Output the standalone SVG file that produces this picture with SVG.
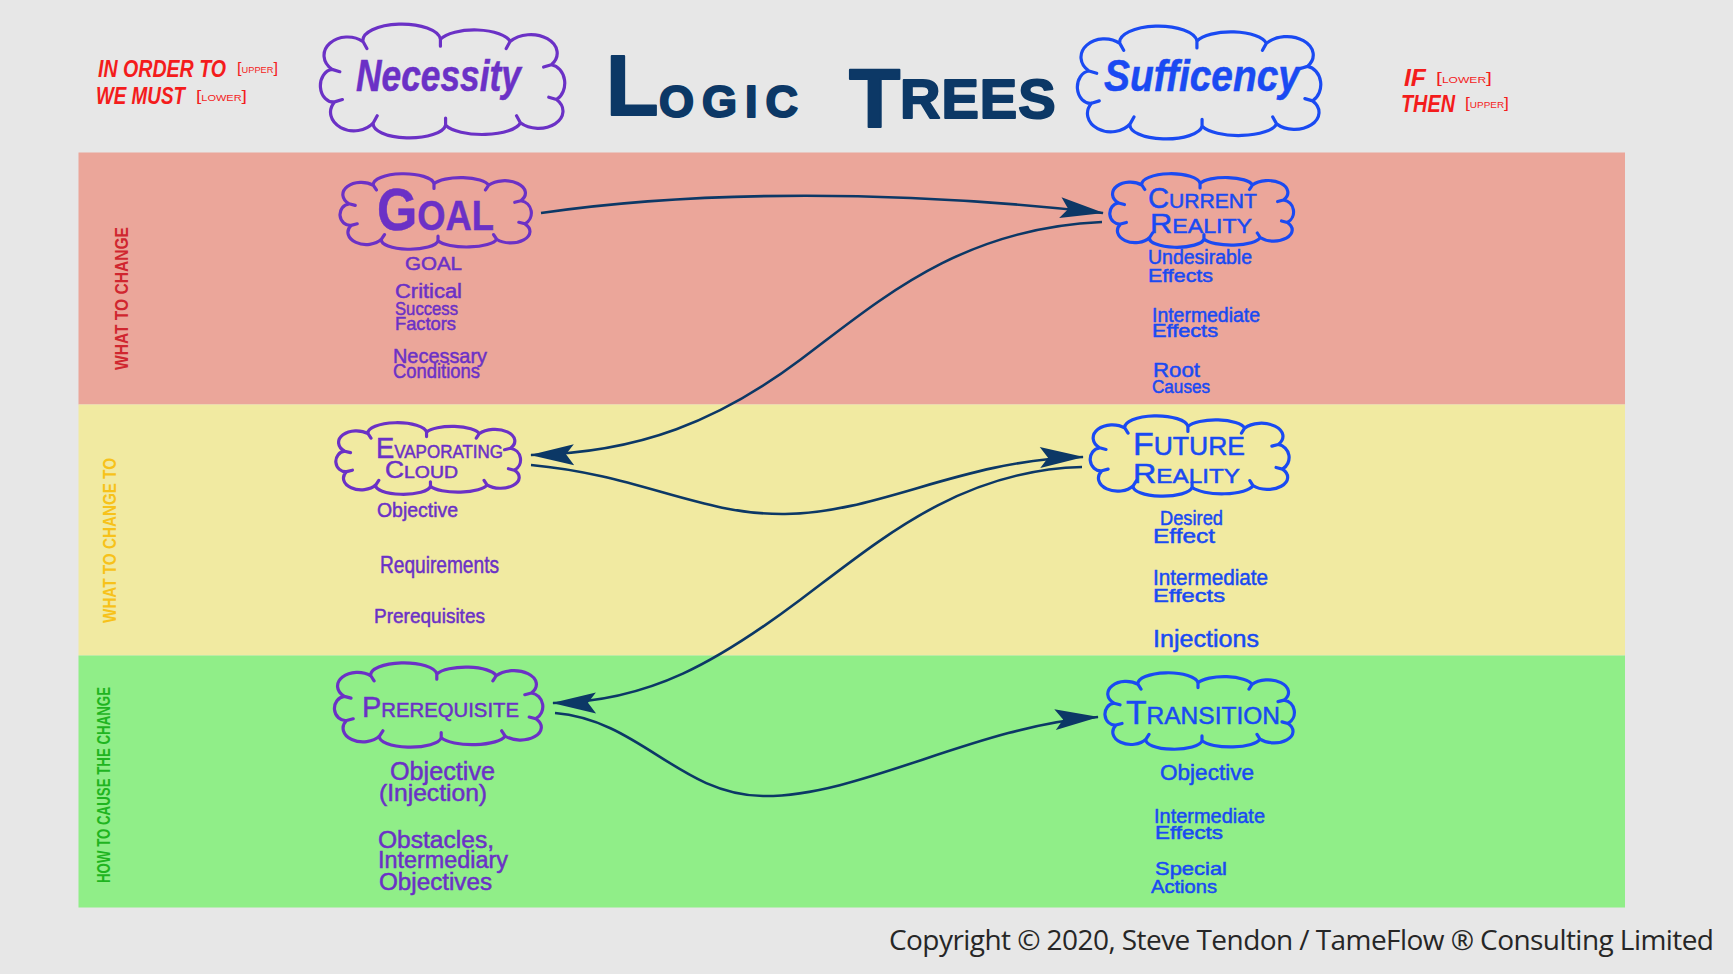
<svg xmlns="http://www.w3.org/2000/svg" width="1733" height="974" viewBox="0 0 1733 974">
<defs>
<style>
.t{font-family:"Liberation Sans",Arial,sans-serif}
.p{fill:#6b31c6;stroke:#6b31c6;stroke-width:0.5}
.b{fill:#1a4af2;stroke:#1a4af2;stroke-width:0.5}
.r{fill:#f41c1c}
.cl{fill:none;stroke-width:3.2;stroke-linecap:round;stroke-linejoin:round}
.cp{stroke:#6b31c6}
.cb{stroke:#1a4af2}
.con{fill:none;stroke:#0c3866;stroke-width:2.6;marker-end:url(#ah)}
.br{font-size:15px;font-weight:400}
</style>
<path id="cloud" vector-effect="non-scaling-stroke" d="M14,40 A16,14 0 0 1 38,16 A30,14 0 0 1 98,14 A28,12 0 0 1 152,16 A18,14 0 0 1 184,36 A12,16 0 0 1 188,66 A18,14 0 0 1 160,86 A30,12 0 0 1 102,88 A28,12 0 0 1 46,86 A16,14 0 0 1 16,68 A10,14 0 0 1 14,40 Z M38,16 l3,6 M98,14 l0,6 M152,16 l-3,6 M184,36 l-6,2 M188,66 l-6,-2 M160,86 l-3,-6 M102,88 l0,-6 M46,86 l3,-6 M16,68 l6,-2 M14,40 l6,2"/>
<marker id="ah" markerUnits="userSpaceOnUse" viewBox="-46 -13 48 26" markerWidth="48" markerHeight="26" refX="0" refY="0" orient="auto">
<path d="M1,0 L-43,-11 L-35,0 L-43,10 Z" fill="#0c3866"/>
</marker>
</defs>

<rect x="0" y="0" width="1733" height="974" fill="#e7e7e7"/>

<g id="bands">
<rect x="78.5" y="152.5" width="1546.5" height="252" fill="#eba69a"/>
<rect x="78.5" y="404.5" width="1546.5" height="251" fill="#f1eaa1"/>
<rect x="78.5" y="655.5" width="1546.5" height="252" fill="#90ee88"/>
<text class="t" font-weight="700" font-size="18" fill="#d0262f" text-anchor="middle" textLength="143" lengthAdjust="spacingAndGlyphs" transform="translate(128,298.5) rotate(-90)">WHAT TO CHANGE</text>
<text class="t" font-weight="700" font-size="18" fill="#f7c21a" text-anchor="middle" textLength="165" lengthAdjust="spacingAndGlyphs" transform="translate(116,540.5) rotate(-90)">WHAT TO CHANGE TO</text>
<text class="t" font-weight="700" font-size="18" fill="#1fb51f" text-anchor="middle" textLength="196" lengthAdjust="spacingAndGlyphs" transform="translate(110,785) rotate(-90)">HOW TO CAUSE THE CHANGE</text>
</g>

<g id="header">
<text class="t r" font-weight="700" font-style="italic" font-size="23" x="98" y="77" textLength="128" lengthAdjust="spacingAndGlyphs">IN ORDER TO</text>
<text class="t r" font-size="8.5" x="237" y="73" textLength="41" lengthAdjust="spacingAndGlyphs"><tspan class="br">[</tspan>UPPER<tspan class="br">]</tspan></text>
<text class="t r" font-weight="700" font-style="italic" font-size="23" x="96" y="104" textLength="89" lengthAdjust="spacingAndGlyphs">WE MUST</text>
<text class="t r" font-size="8.5" x="196" y="101" textLength="51" lengthAdjust="spacingAndGlyphs"><tspan class="br">[</tspan>LOWER<tspan class="br">]</tspan></text>
<text class="t r" font-weight="700" font-style="italic" font-size="23" x="1404" y="86" textLength="22" lengthAdjust="spacingAndGlyphs">IF</text>
<text class="t r" font-size="8.5" x="1436" y="83" textLength="56" lengthAdjust="spacingAndGlyphs"><tspan class="br">[</tspan>LOWER<tspan class="br">]</tspan></text>
<text class="t r" font-weight="700" font-style="italic" font-size="23" x="1401" y="112" textLength="54" lengthAdjust="spacingAndGlyphs">THEN</text>
<text class="t r" font-size="8.5" x="1465" y="108" textLength="44" lengthAdjust="spacingAndGlyphs"><tspan class="br">[</tspan>UPPER<tspan class="br">]</tspan></text>
<text class="t" font-weight="700" fill="#0c3866" stroke="#0c3866" stroke-width="2" stroke-linejoin="round"><tspan x="606" y="115" font-size="86">L</tspan><tspan x="659" y="117" font-size="45" letter-spacing="8">OGIC</tspan><tspan x="849" y="127" font-size="84">T</tspan><tspan x="900" y="118" font-size="56" letter-spacing="1">REES</tspan></text>
</g>

<g id="necessity">
<use href="#cloud" class="cl cp" transform="translate(314,23) scale(1.29,1.16)"/>
<text class="t p" font-weight="700" font-style="italic" font-size="44" x="356" y="91" textLength="165" lengthAdjust="spacingAndGlyphs">Necessity</text>
</g>

<g id="sufficency">
<use href="#cloud" class="cl cb" transform="translate(1071,25) scale(1.285,1.15)"/>
<text class="t b" font-weight="700" font-style="italic" font-size="44" x="1104" y="91" textLength="196" lengthAdjust="spacingAndGlyphs">Sufficency</text>
</g>

<g id="connectors">
<path class="con" d="M541,213 C700,190 900,190 1103,213"/>
<path class="con" d="M1102,222 C960,228 880,300 800,360 S640,453 531,455"/>
<path class="con" d="M531,465 C640,475 700,515 785,514 C880,513 960,460 1083,457"/>
<path class="con" d="M1082,467 C960,470 880,540 800,600 S650,702 553,703"/>
<path class="con" d="M555,713 C640,720 680,795 763,796 C860,797 975,726 1098,717"/>
</g>

<g id="goal">
<use href="#cloud" class="cl cp" transform="translate(335,173) scale(1.01,0.77)"/>
<text class="t p" font-weight="700" x="377" y="230" textLength="117" lengthAdjust="spacingAndGlyphs"><tspan font-size="60">G</tspan><tspan font-size="42">OAL</tspan></text>
<text class="t p" font-size="18" x="405" y="270" textLength="57" lengthAdjust="spacingAndGlyphs">GOAL</text>
<text class="t p" font-size="20" x="395" y="298" textLength="67" lengthAdjust="spacingAndGlyphs">Critical</text>
<text class="t p" font-size="19" x="395" y="315" textLength="63" lengthAdjust="spacingAndGlyphs">Success</text>
<text class="t p" font-size="19" x="395" y="330" textLength="61" lengthAdjust="spacingAndGlyphs">Factors</text>
<text class="t p" font-size="21" x="393" y="363" textLength="94" lengthAdjust="spacingAndGlyphs">Necessary</text>
<text class="t p" font-size="21" x="393" y="378" textLength="87" lengthAdjust="spacingAndGlyphs">Conditions</text>
</g>

<g id="current-reality">
<use href="#cloud" class="cl cb" transform="translate(1105,173) scale(0.97,0.75)"/>
<text class="t b" x="1148" y="208" textLength="109" lengthAdjust="spacingAndGlyphs"><tspan font-size="29">C</tspan><tspan font-size="21">URRENT</tspan></text>
<text class="t b" x="1150" y="233" textLength="102" lengthAdjust="spacingAndGlyphs"><tspan font-size="28">R</tspan><tspan font-size="21">EALITY</tspan></text>
<text class="t b" font-size="20" x="1148" y="264" textLength="104" lengthAdjust="spacingAndGlyphs">Undesirable</text>
<text class="t b" font-size="19" x="1148" y="282" textLength="65" lengthAdjust="spacingAndGlyphs">Effects</text>
<text class="t b" font-size="20" x="1152" y="322" textLength="108" lengthAdjust="spacingAndGlyphs">Intermediate</text>
<text class="t b" font-size="18" x="1152" y="337" textLength="66" lengthAdjust="spacingAndGlyphs">Effects</text>
<text class="t b" font-size="21" x="1153" y="377" textLength="47" lengthAdjust="spacingAndGlyphs">Root</text>
<text class="t b" font-size="18" x="1152" y="393" textLength="58" lengthAdjust="spacingAndGlyphs">Causes</text>
</g>

<g id="evaporating-cloud">
<use href="#cloud" class="cl cp" transform="translate(331,422) scale(0.975,0.73)"/>
<text class="t p" x="376" y="458" textLength="127" lengthAdjust="spacingAndGlyphs"><tspan font-size="29">E</tspan><tspan font-size="18">VAPORATING</tspan></text>
<text class="t p" x="385" y="478" textLength="73" lengthAdjust="spacingAndGlyphs"><tspan font-size="23">C</tspan><tspan font-size="17">LOUD</tspan></text>
<text class="t p" font-size="21" x="377" y="517" textLength="81" lengthAdjust="spacingAndGlyphs">Objective</text>
<text class="t p" font-size="24" x="380" y="573" textLength="119" lengthAdjust="spacingAndGlyphs">Requirements</text>
<text class="t p" font-size="21" x="374" y="623" textLength="111" lengthAdjust="spacingAndGlyphs">Prerequisites</text>
</g>

<g id="future-reality">
<use href="#cloud" class="cl cb" transform="translate(1085,415) scale(1.05,0.82)"/>
<text class="t b" x="1133" y="455" textLength="112" lengthAdjust="spacingAndGlyphs"><tspan font-size="32">F</tspan><tspan font-size="25">UTURE</tspan></text>
<text class="t b" x="1133" y="483" textLength="107" lengthAdjust="spacingAndGlyphs"><tspan font-size="28">R</tspan><tspan font-size="21">EALITY</tspan></text>
<text class="t b" font-size="21" x="1160" y="525" textLength="63" lengthAdjust="spacingAndGlyphs">Desired</text>
<text class="t b" font-size="20" x="1153" y="543" textLength="62" lengthAdjust="spacingAndGlyphs">Effect</text>
<text class="t b" font-size="22" x="1153" y="585" textLength="115" lengthAdjust="spacingAndGlyphs">Intermediate</text>
<text class="t b" font-size="19" x="1153" y="602" textLength="72" lengthAdjust="spacingAndGlyphs">Effects</text>
<text class="t b" font-size="23" x="1153" y="647" textLength="106" lengthAdjust="spacingAndGlyphs">Injections</text>
</g>

<g id="prerequisite">
<use href="#cloud" class="cl cp" transform="translate(329,662) scale(1.10,0.86)"/>
<text class="t p" x="362" y="717" textLength="157" lengthAdjust="spacingAndGlyphs"><tspan font-size="30">P</tspan><tspan font-size="21">REREQUISITE</tspan></text>
<text class="t p" font-size="25" x="390" y="780" textLength="105" lengthAdjust="spacingAndGlyphs">Objective</text>
<text class="t p" font-size="24" x="379" y="801" textLength="108" lengthAdjust="spacingAndGlyphs">(Injection)</text>
<text class="t p" font-size="23" x="378" y="848" textLength="116" lengthAdjust="spacingAndGlyphs">Obstacles,</text>
<text class="t p" font-size="23" x="378" y="868" textLength="130" lengthAdjust="spacingAndGlyphs">Intermediary</text>
<text class="t p" font-size="23" x="379" y="890" textLength="113" lengthAdjust="spacingAndGlyphs">Objectives</text>
</g>

<g id="transition">
<use href="#cloud" class="cl cb" transform="translate(1100,672) scale(1.0,0.78)"/>
<text class="t b" x="1126" y="724" textLength="154" lengthAdjust="spacingAndGlyphs"><tspan font-size="33">T</tspan><tspan font-size="24">RANSITION</tspan></text>
<text class="t b" font-size="22" x="1160" y="780" textLength="94" lengthAdjust="spacingAndGlyphs">Objective</text>
<text class="t b" font-size="21" x="1154" y="823" textLength="111" lengthAdjust="spacingAndGlyphs">Intermediate</text>
<text class="t b" font-size="18" x="1155" y="839" textLength="68" lengthAdjust="spacingAndGlyphs">Effects</text>
<text class="t b" font-size="19" x="1155" y="875" textLength="72" lengthAdjust="spacingAndGlyphs">Special</text>
<text class="t b" font-size="19" x="1151" y="893" textLength="66" lengthAdjust="spacingAndGlyphs">Actions</text>
</g>

<text id="copyright" x="889" y="950" font-family="'Open Sans','Noto Sans',sans-serif" font-size="28" fill="#262626" textLength="825" lengthAdjust="spacing">Copyright © 2020, Steve Tendon / TameFlow ® Consulting Limited</text>
</svg>
